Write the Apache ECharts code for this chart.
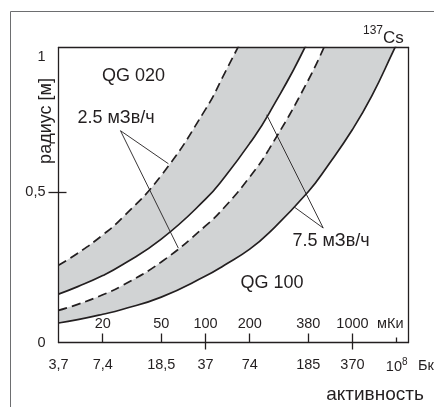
<!DOCTYPE html>
<html>
<head>
<meta charset="utf-8">
<script src="https://cdn.jsdelivr.net/npm/echarts@6/dist/echarts.min.js"></script>
<style>
html, body { margin: 0; padding: 0; background: #fff; }
#box { width: 434px; height: 407px; }
</style>
</head>
<body>
<div id="box"></div>
<script>
// activity in units of 10^8 Bq, radius in m
var activity = [3.7, 5, 7.4, 10, 18.5, 37, 50, 74, 100, 185, 250, 370, 500, 700, 800];
var qg020Dose25 = [0.257, 0.297, 0.358, 0.414, 0.556, 0.776, 0.897, 1.06];
var qg020Dose75 = [0.161, 0.186, 0.223, 0.258, 0.344, 0.477, 0.551, 0.663, 0.762, 1.005, 1.17];
var qg100Dose25 = [0.107, 0.127, 0.159, 0.189, 0.268, 0.388, 0.451, 0.551, 0.643, 0.873, 1.01];
var qg100Dose75 = [0.065, 0.076, 0.094, 0.110, 0.151, 0.221, 0.258, 0.311, 0.365, 0.502, 0.587, 0.709, 0.820, 0.969, 1.03];

var bqTicks = [3.7, 7.4, 18.5, 37, 74, 185, 370, 740];
var bqLabels = ['3,7', '7,4', '18,5', '37', '74', '185', '370', '{b|10}{s|8}'];
var mciTicks = [7.4, 18.5, 37, 74, 185, 370];
var mciLabelAt = [7.4, 18.5, 37, 74, 185, 370, 740];
var mciLabels = ['20', '50', '100', '200', '380', '1000', '{u|мКи}'];
var radiusTicks = [0, 0.5, 0.982];
var radiusLabels = ['0', '0,5', '{t|1}'];

// leader lines from the notes to the curves
var leaders = [
    [[9.77, 0.705], [20.7, 0.595]],
    [[9.77, 0.705], [24.2, 0.314]],
    [[234, 0.381], [96.5, 0.758]],
    [[234, 0.381], [148.7, 0.451]]
];

var FONT = 'Liberation Sans';
var INK = '#231f20';
var GRAY = '#d1d3d4';

function pairs(ys) {
    return ys.map(function (y, i) { return [activity[i], y]; });
}

function pickLog(ticks, labels) {
    return function (v) {
        var best = 0;
        for (var i = 1; i < ticks.length; i++) {
            if (Math.abs(Math.log(ticks[i] / v)) < Math.abs(Math.log(ticks[best] / v))) best = i;
        }
        return labels[best];
    };
}

function pickLin(ticks, labels) {
    return function (v) {
        var best = 0;
        for (var i = 1; i < ticks.length; i++) {
            if (Math.abs(ticks[i] - v) < Math.abs(ticks[best] - v)) best = i;
        }
        return labels[best];
    };
}

function curve(ys, dashed, fill) {
    return {
        type: 'line',
        data: pairs(ys),
        smooth: true,
        symbol: 'none',
        silent: true,
        lineStyle: { color: INK, width: 1.7, type: dashed ? [9, 5] : 'solid' },
        areaStyle: { color: fill, opacity: 1, origin: 'end' }
    };
}

var logBase = {
    type: 'log',
    gridIndex: 0,
    min: 3.7,
    max: 890,
    splitLine: { show: false },
    minorTick: { show: false }
};

var dom = document.getElementById('box');
var myChart = echarts.init(dom, null, { renderer: 'canvas' });

var option = {
    backgroundColor: '#fff',
    animation: false,
    title: {
        text: '{s|137}{c|Cs}',
        left: 358,
        top: 20,
        textStyle: {
            fontWeight: 'normal',
            rich: {
                s: { fontSize: 12, fontFamily: FONT, fontWeight: 'normal', color: INK, verticalAlign: 'top', lineHeight: 12 },
                c: { fontSize: 17, fontFamily: FONT, fontWeight: 'normal', color: INK, verticalAlign: 'bottom', lineHeight: 22 }
            }
        }
    },
    grid: { left: 58.5, top: 47.5, width: 350, height: 295, show: false },
    xAxis: [
        Object.assign({}, logBase, {
            position: 'bottom',
            z: 10,
            axisLine: { show: true, lineStyle: { color: INK, width: 1.3 } },
            axisTick: { show: true, customValues: [37, 370], inside: false, length: 7, lineStyle: { color: INK, width: 1.3 } },
            axisLabel: {
                customValues: bqTicks,
                formatter: pickLog(bqTicks, bqLabels),
                margin: 15,
                color: INK,
                fontSize: 14.5,
                fontFamily: FONT,
                rich: {
                    b: { fontSize: 14.5, fontFamily: FONT, color: INK, lineHeight: 18 },
                    s: { fontSize: 10, fontFamily: FONT, color: INK, lineHeight: 8, verticalAlign: 'top' }
                }
            }
        }),
        Object.assign({}, logBase, {
            position: 'bottom',
            z: 10,
            axisLine: { show: false },
            axisTick: { show: true, customValues: mciTicks, inside: true, length: 9, lineStyle: { color: INK, width: 1.3 } },
            axisLabel: {
                inside: true,
                customValues: mciLabelAt,
                formatter: pickLog(mciLabelAt, mciLabels),
                margin: 11,
                color: INK,
                fontSize: 14.5,
                fontFamily: FONT,
                rich: {
                    u: { fontSize: 14.5, fontFamily: FONT, color: INK, padding: [0, 13, 0, 0] }
                }
            }
        }),
        Object.assign({}, logBase, {
            position: 'bottom',
            z: 10,
            axisLine: { show: false },
            axisTick: { show: true, customValues: [740], inside: true, length: 5, lineStyle: { color: INK, width: 1.3 } },
            axisLabel: { show: false }
        }),
        Object.assign({}, logBase, {
            position: 'top',
            z: 10,
            axisLine: { show: true, lineStyle: { color: INK, width: 1.3 } },
            axisTick: { show: false },
            axisLabel: { show: false }
        })
    ],
    yAxis: [
        {
            type: 'value',
            min: 0,
            max: 0.982,
            position: 'left',
            z: 10,
            splitLine: { show: false },
            axisLine: { show: true, lineStyle: { color: INK, width: 1.3 } },
            axisTick: { show: true, customValues: [0.5], inside: false, length: 10, lineStyle: { color: INK, width: 1.3 } },
            axisLabel: {
                customValues: radiusTicks,
                formatter: pickLin(radiusTicks, radiusLabels),
                margin: 13,
                color: INK,
                fontSize: 14.5,
                fontFamily: FONT,
                rich: {
                    t: { fontSize: 14.5, fontFamily: FONT, color: INK, padding: [18, 0, 0, 0] }
                }
            }
        },
        {
            type: 'value',
            min: 0,
            max: 0.982,
            position: 'left',
            z: 10,
            splitLine: { show: false },
            axisLine: { show: false },
            axisTick: { show: true, customValues: [0.5], inside: true, length: 8, lineStyle: { color: INK, width: 1.3 } },
            axisLabel: { show: false }
        },
        {
            type: 'value',
            min: 0,
            max: 0.982,
            position: 'right',
            z: 10,
            splitLine: { show: false },
            axisLine: { show: true, lineStyle: { color: INK, width: 1.3 } },
            axisTick: { show: false },
            axisLabel: { show: false }
        }
    ],
    graphic: [
        { type: 'polyline', silent: true, shape: { points: [[10.5, 420], [10.5, 11.5], [440, 11.5]] }, style: { stroke: '#6d6e70', lineWidth: 1, fill: null } },
        { type: 'text', x: 46.5, y: 121, rotation: Math.PI / 2, style: { text: 'радиус [м]', fontSize: 18, fontFamily: FONT, fill: INK, align: 'center', verticalAlign: 'middle' } },
        { type: 'text', x: 133.5, y: 76, z: 20, style: { text: 'QG 020', fontSize: 18, fontFamily: FONT, fill: INK, align: 'center', verticalAlign: 'middle' } },
        { type: 'text', x: 116, y: 118.5, z: 20, style: { text: '2.5 мЗв/ч', fontSize: 18, fontFamily: FONT, fill: INK, align: 'center', verticalAlign: 'middle' } },
        { type: 'text', x: 331, y: 241, z: 20, style: { text: '7.5 мЗв/ч', fontSize: 18, fontFamily: FONT, fill: INK, align: 'center', verticalAlign: 'middle' } },
        { type: 'text', x: 272, y: 283.5, z: 20, style: { text: 'QG 100', fontSize: 18, fontFamily: FONT, fill: INK, align: 'center', verticalAlign: 'middle' } },
        { type: 'text', x: 418, y: 366, style: { text: 'Бк', fontSize: 14.5, fontFamily: FONT, fill: INK, align: 'left', verticalAlign: 'middle' } },
        { type: 'text', x: 375, y: 395, style: { text: 'активность', fontSize: 19, fontFamily: FONT, fill: INK, align: 'center', verticalAlign: 'middle' } }
    ],
    series: [
        curve(qg100Dose75, false, GRAY),
        curve(qg100Dose25, true, '#fff'),
        curve(qg020Dose75, false, GRAY),
        curve(qg020Dose25, true, '#fff'),
        {
            type: 'lines',
            coordinateSystem: 'cartesian2d',
            xAxisIndex: 0,
            yAxisIndex: 0,
            silent: true,
            z: 5,
            symbol: 'none',
            lineStyle: { color: INK, width: 0.9, opacity: 1, curveness: 0 },
            data: leaders.map(function (c) { return { coords: c }; })
        }
    ]
};

if (option && typeof option === 'object') {
    myChart.setOption(option, true);
}
</script>
</body>
</html>
